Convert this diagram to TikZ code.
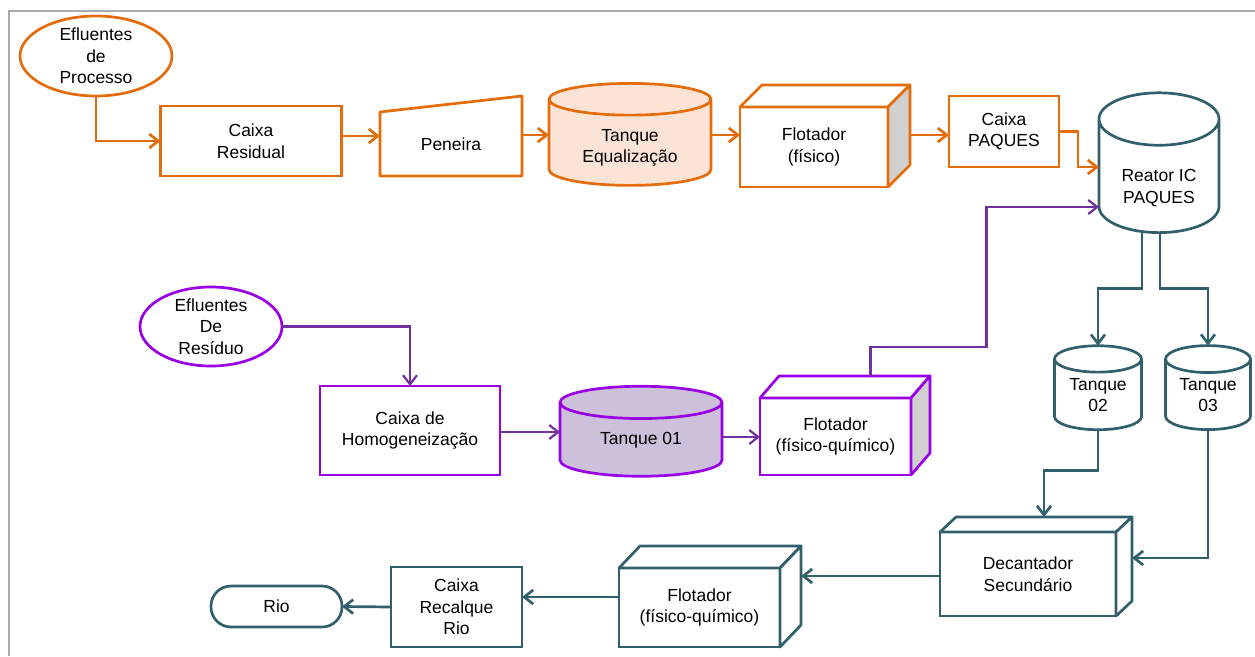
\documentclass[tikz,border=0pt]{standalone}
\usepackage{fontspec}
\setmainfont{Liberation Sans}
\usetikzlibrary{positioning}
\usetikzlibrary{calc}
\usetikzlibrary{arrows.meta}
\usetikzlibrary{shapes.geometric}
\definecolor{laranja}{RGB}{228,108,10}
\definecolor{laranjaclaro}{RGB}{251,228,213}
\definecolor{roxo}{RGB}{153,0,230}
\definecolor{roxoseta}{RGB}{112,48,160}
\definecolor{lilas}{RGB}{204,192,218}
\definecolor{petroleo}{RGB}{49,95,108}
\definecolor{lateral}{RGB}{208,208,208}
\definecolor{moldura}{RGB}{170,170,170}

\begin{document}
\begin{tikzpicture}[x=1pt, y=-1pt,
			every node/.style={font=\fontsize{17.5}{21.5}\selectfont, align=center, inner sep=0pt, outer sep=0pt},
			caixa/.style={rectangle, draw, fill=white, line width=2.7pt},
			efluente/.style={ellipse, draw, fill=white, line width=2.7pt},
			tanque/.style={cylinder, shape border rotate=90, draw, line width=2.7pt, cylinder uses custom fill},
			face/.style={line width=2.7pt, line join=round},
			seta/.style={line width=2.7pt, -{Straight Barb[length=9pt, width=14pt]}}
		]
			\useasboundingbox (0,0) rectangle (1255,656);
			\draw[moldura, line width=1.5pt] (9,656) -- (9,11) -- (1255,11);

			% linha de processo (laranja)
			\node[efluente, draw=laranja, minimum width=152pt, minimum height=80pt] (proc) at (96,56) {Efluentes\\de\\Processo};
			\node[caixa, draw=laranja, minimum width=181pt, minimum height=70pt] (resid) at (251,141) {Caixa\\Residual};
			\node[minimum width=142pt, minimum height=64pt] (pen) at (451,144) {Peneira};
			\draw[face, draw=laranja] (pen.south west) -- (pen.south east) -- ($(pen.north east)+(0,-16)$) -- (pen.north west) -- cycle;
			\node[tanque, draw=laranja, cylinder body fill=laranjaclaro, cylinder end fill=laranjaclaro, minimum width=162pt, minimum height=102pt, aspect=0.333] (equal) at (630,143) {\rule{0pt}{22pt}Tanque\\Equalização};
			\node[caixa, draw=laranja, minimum width=148pt, minimum height=80pt] (flot1) at (814,147) {Flotador\\(físico)};
			\draw[face, draw=laranja, fill=white] (flot1.north west) -- ++(22,-22) -- ($(flot1.north east)+(22,-22)$) -- (flot1.north east) -- cycle;
			\draw[face, draw=laranja, fill=lateral] (flot1.north east) -- ++(22,-22) -- ($(flot1.south east)+(22,-22)$) -- (flot1.south east) -- cycle;
			\node[caixa, draw=laranja, minimum width=110pt, minimum height=71pt] (cxpaq) at (1004,131.5) {Caixa\\PAQUES};
			\node[tanque, draw=petroleo, cylinder body fill=white, cylinder end fill=white, minimum width=120pt, minimum height=138pt, aspect=0.7] (reator) at (1159,176.5) {\rule{0pt}{35pt}Reator IC\\PAQUES};

			\draw[seta, laranja] (proc.south) |- (resid.west);
			\draw[seta, laranja] ([yshift=5pt]resid.east) -- ([yshift=8pt]pen.west);
			\draw[seta, laranja] ([yshift=9pt]pen.east) -- (equal.west |- 0,135);
			\draw[seta, laranja] (equal.east |- 0,135) -- ([yshift=12pt]flot1.west);
			\draw[seta, laranja] ($(flot1.east)+(22,-12)$) -- (cxpaq.west |- 0,135);
			\draw[seta, laranja] (cxpaq.east) -- ++(19,0) |- (reator.west |- 0,167);

			% linha de residuo (roxo)
			\node[efluente, draw=roxo, minimum width=142pt, minimum height=79pt] (resid2) at (211,326.5) {Efluentes\\De\\Resíduo};
			\node[caixa, draw=roxo, minimum width=180pt, minimum height=89pt] (homog) at (410,430.5) {Caixa de\\Homogeneização};
			\node[tanque, draw=roxo, cylinder body fill=lilas, cylinder end fill=lilas, minimum width=162pt, minimum height=90pt, aspect=0.395] (t01) at (641,440) {Tanque 01};
			\node[caixa, draw=roxo, minimum width=151pt, minimum height=77pt] (flotB) at (835.5,436.5) {Flotador\\(físico-químico)};
			\draw[face, draw=roxo, fill=white] (flotB.north west) -- ++(19,-22) -- ($(flotB.north east)+(19,-22)$) -- (flotB.north east) -- cycle;
			\draw[face, draw=roxo, fill=lateral] (flotB.north east) -- ++(19,-22) -- ($(flotB.south east)+(19,-22)$) -- (flotB.south east) -- cycle;

			\draw[seta, roxoseta, line width=2.2pt] (resid2.east) -| (homog.north);
			\draw[seta, roxoseta, line width=2.2pt] (homog.east |- 0,432) -- (t01.west |- 0,432);
			\draw[seta, roxoseta, line width=2.2pt] (t01.east |- 0,437) -- (flotB.west |- 0,437);
			\draw[seta, roxoseta, line width=2.2pt] ($(flotB.north)+(35,-22)$) -- ++(0,-29) -| ++(116,-140) -- (reator.west |- 0,207);

			% tratamento final (petroleo)
			\node[tanque, draw=petroleo, cylinder body fill=white, cylinder end fill=white, minimum width=87pt, minimum height=84pt, aspect=0.46] (t02) at (1098,395) {Tanque\\02};
			\node[tanque, draw=petroleo, cylinder body fill=white, cylinder end fill=white, minimum width=85pt, minimum height=84pt, aspect=0.47] (t03) at (1208,395) {Tanque\\03};
			\node[caixa, draw=petroleo, minimum width=176pt, minimum height=84pt] (deca) at (1028,574) {Decantador\\Secundário};
			\draw[face, draw=petroleo, fill=white] (deca.north west) -- ++(16,-15) -- ($(deca.north east)+(16,-15)$) -- (deca.north east) -- cycle;
			\draw[face, draw=petroleo, fill=white] (deca.north east) -- ++(16,-15) -- ($(deca.south east)+(16,-15)$) -- (deca.south east) -- cycle;
			\node[caixa, draw=petroleo, minimum width=161pt, minimum height=79pt] (flotC) at (699.5,607.5) {Flotador\\(físico-químico)};
			\draw[face, draw=petroleo, fill=white] (flotC.north west) -- ++(21,-22) -- ($(flotC.north east)+(21,-22)$) -- (flotC.north east) -- cycle;
			\draw[face, draw=petroleo, fill=white] (flotC.north east) -- ++(21,-22) -- ($(flotC.south east)+(21,-22)$) -- (flotC.south east) -- cycle;
			\node[caixa, draw=petroleo, minimum width=131pt, minimum height=80pt] (cxrec) at (456.5,607) {Caixa\\Recalque\\Rio};
			\node[caixa, draw=petroleo, rounded corners=20pt, minimum width=131pt, minimum height=41pt] (rio) at (276.5,606.5) {Rio};
			\coordinate (decatopo) at ($(deca.north)+(16,-15)$);
			\coordinate (decalado) at ($(deca.east)+(16,0)$);
			\coordinate (flotClado) at ($(flotC.east)+(21,0)$);

			\draw[seta, petroleo] ([xshift=-17pt]reator.south) -- ++(0,56) -| (t02.north);
			\draw[seta, petroleo] ([xshift=1pt]reator.south) -- ++(0,56) -| (t03.north);
			\draw[seta, petroleo] (t02.south) -- ++(0,41) -| (decatopo);
			\draw[seta, petroleo] (t03.south) |- (decalado |- 0,558);
			\draw[seta, petroleo] (deca.west |- 0,576) -- (flotClado |- 0,576);
			\draw[seta, petroleo] (flotC.west |- 0,597) -- (cxrec.east |- 0,597);
			\draw[seta, petroleo] (cxrec.west) -- (rio.east);
		\end{tikzpicture}
\end{document}
